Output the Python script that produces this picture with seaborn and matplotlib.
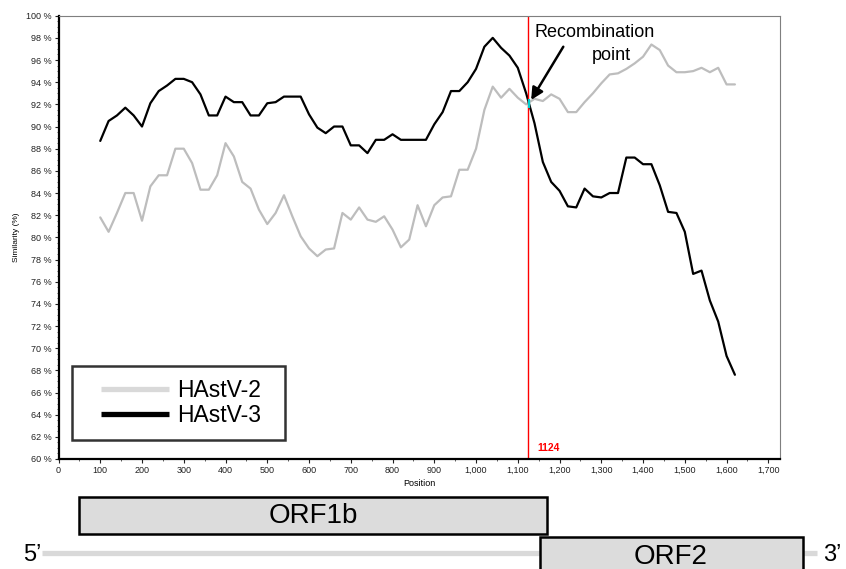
import numpy as np
import pandas as pd
import seaborn as sns
import matplotlib
matplotlib.use("Agg")
import matplotlib.pyplot as plt
from matplotlib.lines import Line2D
from matplotlib.legend_handler import HandlerLine2D
from matplotlib.ticker import MultipleLocator, FuncFormatter

# window positions (step 20 bp)
position = list(range(100, 1621, 20))

hastv2 = [81.8, 80.5, 82.2, 84.0, 84.0, 81.5, 84.6, 85.6, 85.6, 88.0,
          88.0, 86.7, 84.3, 84.3, 85.6, 88.5, 87.3, 85.0, 84.4, 82.5,
          81.2, 82.2, 83.8, 81.9, 80.1, 79.0, 78.3, 78.9, 79.0, 82.2,
          81.6, 82.7, 81.6, 81.4, 81.9, 80.7, 79.1, 79.8, 82.9, 81.0,
          82.9, 83.6, 83.7, 86.1, 86.1, 88.0, 91.5, 93.6, 92.6, 93.4,
          92.6, 92.0, 92.5, 92.3, 92.9, 92.5, 91.3, 91.3, 92.2, 93.0,
          93.9, 94.7, 94.8, 95.2, 95.7, 96.3, 97.4, 96.9, 95.5, 94.9,
          94.9, 95.0, 95.3, 94.9, 95.3, 93.8, 93.8]

hastv3 = [88.7, 90.5, 91.0, 91.7, 91.0, 90.0, 92.1, 93.2, 93.7, 94.3,
          94.3, 94.0, 92.9, 91.0, 91.0, 92.7, 92.2, 92.2, 91.0, 91.0,
          92.1, 92.2, 92.7, 92.7, 92.7, 91.1, 89.9, 89.4, 90.0, 90.0,
          88.3, 88.3, 87.6, 88.8, 88.8, 89.3, 88.8, 88.8, 88.8, 88.8,
          90.2, 91.3, 93.2, 93.2, 94.0, 95.2, 97.2, 98.0, 97.1, 96.4,
          95.3, 93.0, 90.3, 86.8, 85.0, 84.2, 82.8, 82.7, 84.4, 83.7,
          83.6, 84.0, 84.0, 87.2, 87.2, 86.6, 86.6, 84.7, 82.3, 82.2,
          80.5, 76.7, 77.0, 74.3, 72.4, 69.3, 67.6]

series_names = ["HAstV-2", "HAstV-3"]
breakpoint_pos = 1124

# genome schematic
orf_names = ["ORF1b", "ORF2"]
orf_start = [48, 1152]
orf_end = [1171, 1782]
orf_row = [1, 0]
genome_start, genome_end = -40, 1816

df = pd.DataFrame({
    "Position": position * 2,
    "Similarity": hastv2 + hastv3,
    "Query": [series_names[0]] * len(position) + [series_names[1]] * len(position),
})

sns.set_style("ticks")
plt.rcParams["font.family"] = ["Liberation Sans", "DejaVu Sans"]
plt.rcParams["text.color"] = "black"
plt.rcParams["axes.labelcolor"] = "black"

W, H = 846, 569
fig = plt.figure(figsize=(W / 100, H / 100), dpi=100)
ax = fig.add_axes([58.5 / W, 1 - 459 / H, (780 - 58.5) / W, (459 - 15.7) / H])

sns.lineplot(data=df, x="Position", y="Similarity", hue="Query",
             palette={"HAstV-2": "#bdbdbd", "HAstV-3": "black"},
             linewidth=1.6, ax=ax, legend=False)

ax.set_xlim(0, 1728)
ax.set_ylim(60, 100)
ax.xaxis.set_major_locator(MultipleLocator(100))
ax.xaxis.set_minor_locator(MultipleLocator(50))
ax.yaxis.set_major_locator(MultipleLocator(2))
ax.yaxis.set_minor_locator(MultipleLocator(0.5))
ax.xaxis.set_major_formatter(FuncFormatter(lambda v, p: f"{int(v):,}"))
ax.yaxis.set_major_formatter(FuncFormatter(lambda v, p: f"{int(v)} %"))
ax.tick_params(axis="both", which="major", labelsize=6.5, length=3, width=0.8,
               pad=2, colors="#222222")
ax.tick_params(axis="both", which="minor", length=1.5, width=0.6, colors="#444444")
ax.set_xlabel("Position", fontsize=6.5, labelpad=3)
ax.set_ylabel("Similarity (%)", fontsize=6, labelpad=4)

for side in ["left", "bottom"]:
    ax.spines[side].set_color("black")
    ax.spines[side].set_linewidth(1.6)
for side in ["top", "right"]:
    ax.spines[side].set_visible(True)
    ax.spines[side].set_color("#7f7f7f")
    ax.spines[side].set_linewidth(0.8)

# breakpoint
ax.axvline(breakpoint_pos, color="red", lw=1)
ax.annotate(str(breakpoint_pos), xy=(breakpoint_pos, 60), xytext=(7, 7.7),
            textcoords="offset points", color="red", fontsize=7.5,
            fontweight="bold", ha="left", va="center")
ax.plot([breakpoint_pos + 2, breakpoint_pos + 2], [91.7, 92.5], color="#00d0d0",
        lw=1.6, solid_capstyle="butt", zorder=5)
ax.annotate("", xy=(1132, 92.4), xytext=(1209, 97.2),
            arrowprops=dict(arrowstyle="-|>", color="black", lw=1.8,
                            mutation_scale=18, shrinkA=0, shrinkB=0))
ax.text(1283, 98.44, "Recombination", fontsize=13, ha="center", va="center")
ax.text(1324, 96.45, "point", fontsize=13, ha="center", va="center")

# legend
handles = [Line2D([], [], color="#d9d9d9", lw=3.8, solid_capstyle="butt"),
           Line2D([], [], color="black", lw=3.8, solid_capstyle="butt")]
leg = ax.legend(handles, series_names, loc="lower left", mode="expand",
                bbox_to_anchor=(0.0183, 0.0428, 0.2956, 0.1), borderaxespad=0,
                fontsize=16.5, frameon=True, fancybox=False,
                handlelength=3.7, handletextpad=0.34, borderpad=0.55,
                labelspacing=0.12,
                handler_map={Line2D: HandlerLine2D(xpad=0.75)})
leg.get_frame().set_edgecolor("black")
leg.get_frame().set_linewidth(1.8)

# genome schematic underneath
ax2 = fig.add_axes([0, 0, 1, 82 / H])
pxu = (780 - 58.5) / 1728
ax2.set_xlim(-58.5 / pxu, (W - 58.5) / pxu)
ax2.set_ylim(-0.355, 1.726)
ax2.axis("off")
ax2.plot([genome_start, genome_end], [0.04, 0.04], color="#d9d9d9", lw=3.8,
         solid_capstyle="butt", zorder=1)
ax2.barh(orf_row, np.array(orf_end) - np.array(orf_start), left=orf_start,
         height=0.93, color="#dcdcdc", edgecolor="black", linewidth=1.8, zorder=2)
for name, s, e, r in zip(orf_names, orf_start, orf_end, orf_row):
    ax2.text((s + e) / 2, r - 0.05 if r == 0 else r, name, fontsize=20,
             ha="center", va="center", zorder=3)
ax2.text(genome_start, 0.0, "5’", fontsize=17, ha="right", va="center")
ax2.text(genome_end + 15, 0.0, "3’", fontsize=17, ha="left", va="center")

fig.savefig("out.png", dpi=100)
